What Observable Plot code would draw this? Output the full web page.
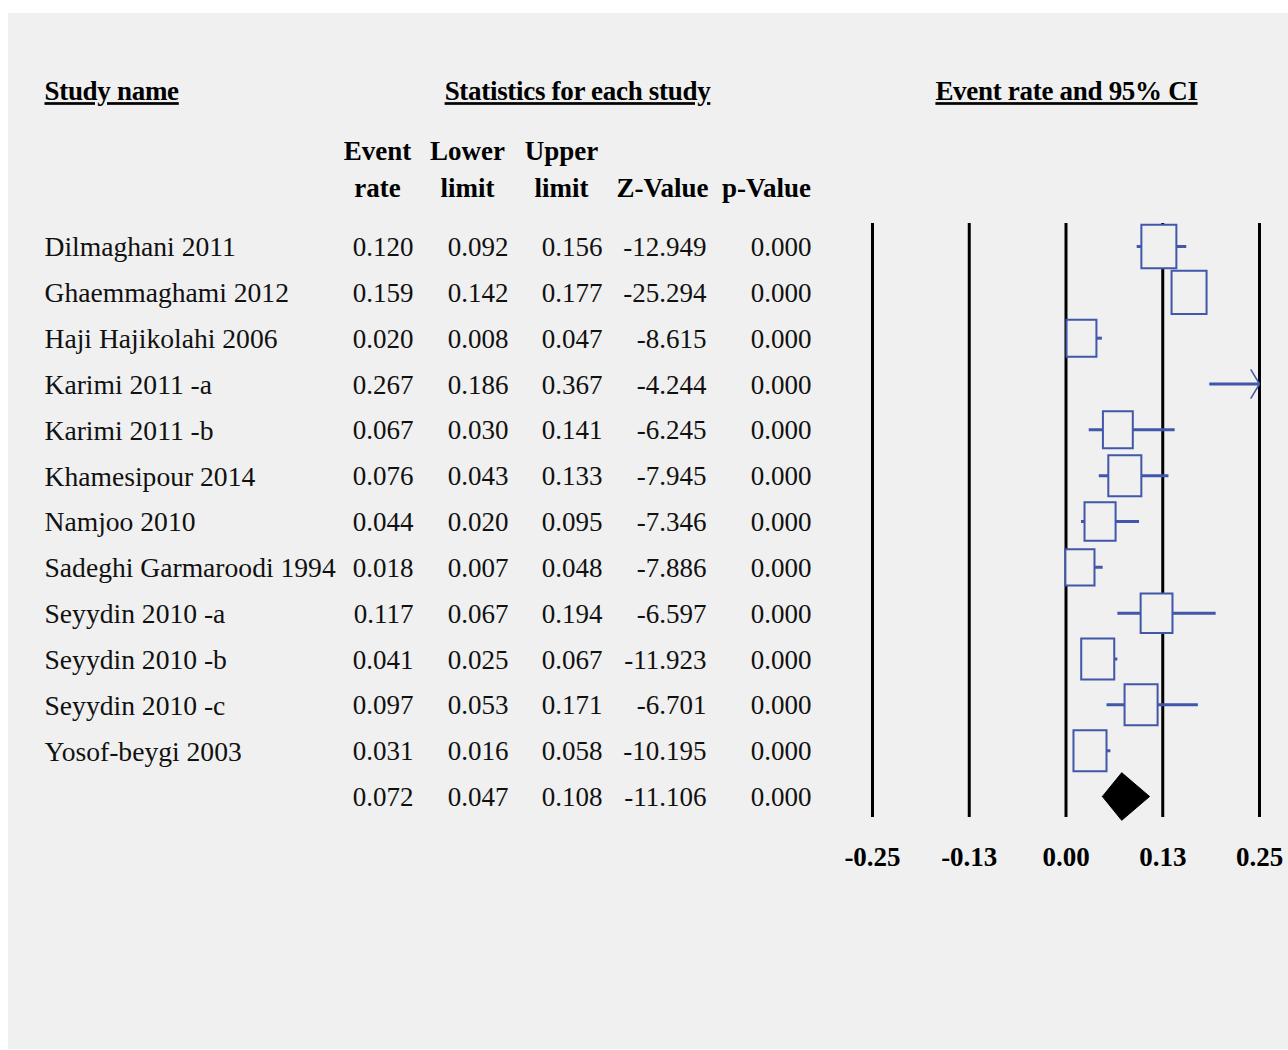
<!DOCTYPE html>
<html><head><meta charset="utf-8">
<script src="https://cdn.jsdelivr.net/npm/d3@7"></script>
<script src="https://cdn.jsdelivr.net/npm/@observablehq/plot@0.6"></script>
<style>
html,body{margin:0;padding:0;background:#fff;}
#wrap{position:absolute;left:8px;top:13px;width:1280px;height:1036px;background:#eff0ef;overflow:hidden;}
.hdr text{text-decoration:underline;text-decoration-thickness:2px;text-underline-offset:6px;letter-spacing:-0.3px;}
</style></head><body><div id="wrap"></div>
<script>
// ---- data ----
const studies = ["Dilmaghani 2011","Ghaemmaghami 2012","Haji Hajikolahi 2006","Karimi 2011 -a","Karimi 2011 -b","Khamesipour 2014","Namjoo 2010","Sadeghi Garmaroodi 1994","Seyydin 2010 -a","Seyydin 2010 -b","Seyydin 2010 -c","Yosof-beygi 2003"];
const eventRate = [0.120,0.159,0.020,0.267,0.067,0.076,0.044,0.018,0.117,0.041,0.097,0.031];
const lowerLimit = [0.092,0.142,0.008,0.186,0.030,0.043,0.020,0.007,0.067,0.025,0.053,0.016];
const upperLimit = [0.156,0.177,0.047,0.367,0.141,0.133,0.095,0.048,0.194,0.067,0.171,0.058];
const zValue = [-12.949,-25.294,-8.615,-4.244,-6.245,-7.945,-7.346,-7.886,-6.597,-11.923,-6.701,-10.195];
const pValue = [0.000,0.000,0.000,0.000,0.000,0.000,0.000,0.000,0.000,0.000,0.000,0.000];
const weights = [8.9,8.9,7.6,7.4,7.6,8.4,7.9,7.4,8.1,8.4,8.4,8.4]; // relative weight (%)
const pooled = {event:0.072, lower:0.047, upper:0.108, z:-11.106, p:0.000};
const tickValues = [-0.25,-0.125,0,0.125,0.25];
const columnHeaders = ["Event\nrate","Lower\nlimit","Upper\nlimit","Z-Value","p-Value"];
const sectionTitles = ["Study name","Statistics for each study","Event rate and 95% CI"];

// ---- build tables ----
const rows = studies.map((name,i)=>({i,name,event:eventRate[i],lower:lowerLimit[i],upper:upperLimit[i],z:zValue[i],p:pValue[i],w:weights[i]}));
const nRows = rows.length;
const tableRows = [...rows, {i:nRows,name:"",event:pooled.event,lower:pooled.lower,upper:pooled.upper,z:pooled.z,p:pooled.p}];
const xMin = tickValues[0], xMax = tickValues[tickValues.length-1];
const inRange = rows.filter(d=>d.event>=xMin && d.event<=xMax);
const clipped = rows.filter(d=>d.upper>xMax);
const diamondH = 0.52;
const diamond = [
  {x:pooled.lower,y:nRows},{x:pooled.event,y:nRows-diamondH},
  {x:pooled.upper,y:nRows},{x:pooled.event,y:nRows+diamondH},{x:pooled.lower,y:nRows}
];

const BG = "#eff0ef", BLUE = "#4257aa", FONT = "Liberation Serif";
const rectSymbol = {draw(ctx,size){const r=Math.sqrt(size/Math.PI);const w=r,h=1.24*r;ctx.rect(-w/2,-h/2,w,h);}};

const colRight = [405,500,594,698,803];
const colCenter = [369,459,553,654,758];
const colKeys = ["event","lower","upper","z","p"];

const marks = [];
// vertical reference lines
marks.push(Plot.ruleX(tickValues,{x:d=>d,stroke:"#000",strokeWidth:3}));
// whiskers
marks.push(Plot.ruleY(rows,{y:"i",x1:d=>Math.max(d.lower,xMin),x2:d=>Math.min(d.upper,xMax),stroke:BLUE,strokeWidth:3}));
marks.push(Plot.arrow(clipped,{x1:"lower",x2:()=>xMax,y1:"i",y2:"i",stroke:BLUE,strokeWidth:1.5,headAngle:118,headLength:17}));
// boxes
marks.push(Plot.dot(inRange,{x:"event",y:"i",r:"w",symbol:rectSymbol,fill:BG,stroke:BLUE,strokeWidth:2}));
// diamond
marks.push(Plot.line(diamond,{x:"x",y:"y",fill:"#000",stroke:"#000",strokeWidth:1}));
// tick labels
marks.push(Plot.text(tickValues,{x:d=>d,text:d=>d.toFixed(2),frameAnchor:"bottom",dy:40,lineAnchor:"middle",fontWeight:"bold",fontSize:27,fill:"#000"}));
// study names
marks.push(Plot.text(tableRows,{y:"i",text:"name",frameAnchor:"left",dx:36,dy:1,textAnchor:"start",lineAnchor:"middle",fontSize:27.6,fill:"#111"}));
// numeric columns
colKeys.forEach((k,j)=>{
  marks.push(Plot.text(tableRows,{y:"i",text:d=>d[k].toFixed(3),frameAnchor:"left",dx:colRight[j],dy:1,textAnchor:"end",lineAnchor:"middle",fontSize:27,fill:"#111"}));
});
// column headers
columnHeaders.forEach((h,j)=>{
  marks.push(Plot.text([h],{text:d=>d,frameAnchor:"top-left",dx:colCenter[j],dy:-27,textAnchor:"middle",lineAnchor:"bottom",lineHeight:1.34,fontWeight:"bold",fontSize:27,fill:"#000"}));
});
// section titles
const titleX = [36,569,1058], titleAnchor = ["start","middle","middle"];
sectionTitles.forEach((t,j)=>{
  marks.push(Plot.text([t],{text:d=>d,frameAnchor:"top-left",dx:titleX[j],dy:-132,textAnchor:titleAnchor[j],lineAnchor:"middle",fontWeight:"bold",fontSize:27,fill:"#000",className:"hdr"}));
});

const chart = Plot.plot({
  width:1280, height:1036,
  marginLeft:0, marginRight:0, marginTop:210, marginBottom:1036-804,
  style:{background:"transparent",fontFamily:FONT,fontSize:"27px",overflow:"visible"},
  x:{domain:[xMin,xMax],range:[864,1251],axis:null},
  y:{domain:[0,nRows],range:[233,783],axis:null},
  r:{type:"linear",domain:[0,8.9],range:[0,35]},
  marks
});
document.getElementById("wrap").appendChild(chart);
</script></body></html>
